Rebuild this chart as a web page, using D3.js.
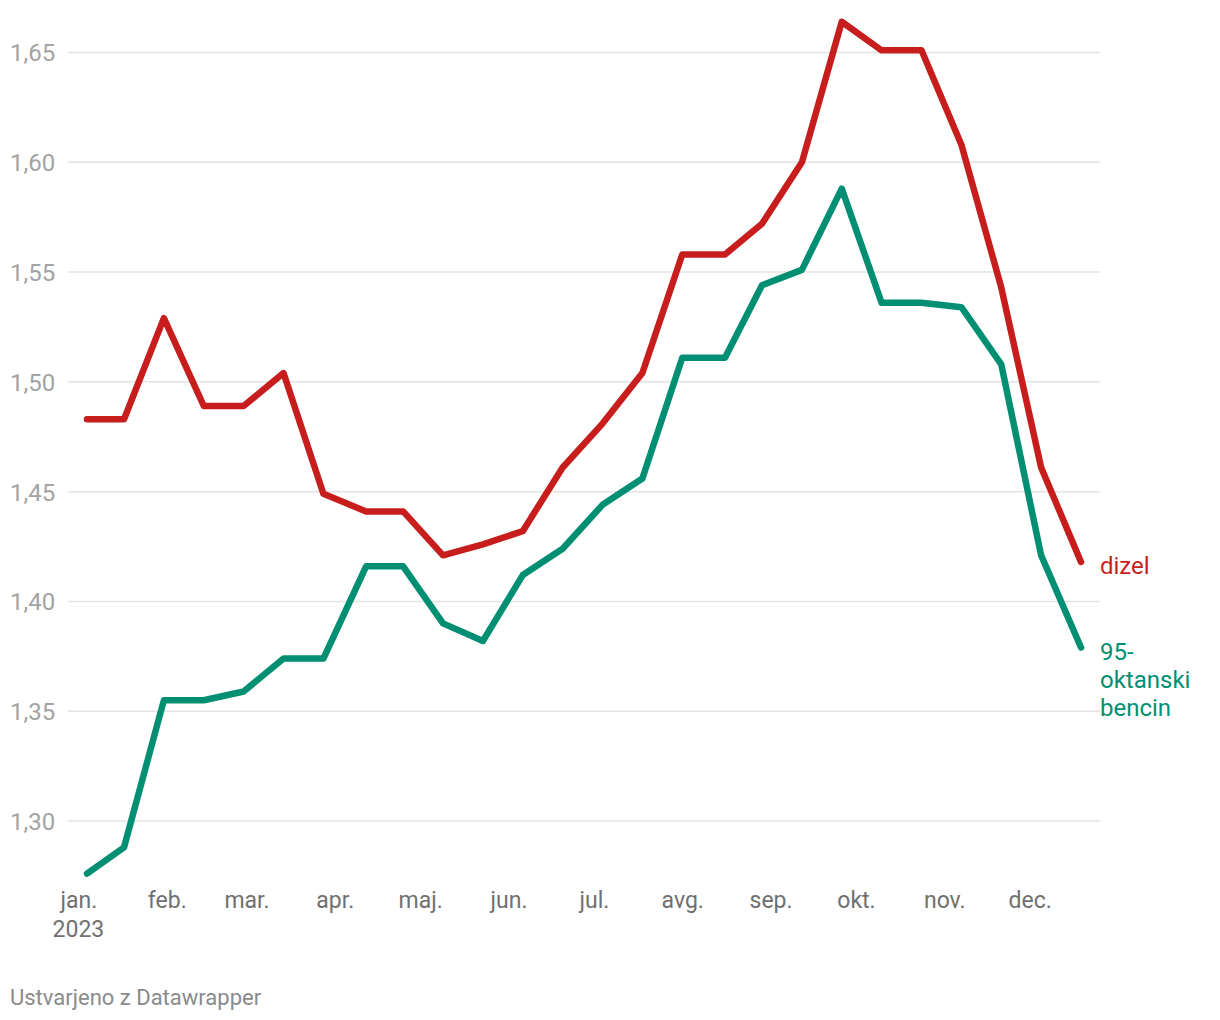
<!DOCTYPE html>
<html>
<head>
<meta charset="utf-8">
<script src="https://cdn.jsdelivr.net/npm/d3@7"></script>
<style>
  html, body { margin: 0; padding: 0; background: #fff; }
  svg { display: block; font-family: Roboto, "Noto Sans", sans-serif; }
</style>
</head>
<body>
<svg id="chart" width="1220" height="1020"></svg>
<script>
// ---- data ----
const dates = [
  "2023-01-04","2023-01-17","2023-01-31","2023-02-14","2023-02-28","2023-03-14",
  "2023-03-28","2023-04-12","2023-04-25","2023-05-09","2023-05-23","2023-06-06",
  "2023-06-20","2023-07-04","2023-07-18","2023-08-01","2023-08-16","2023-08-29",
  "2023-09-12","2023-09-26","2023-10-10","2023-10-24","2023-11-07","2023-11-21",
  "2023-12-05","2023-12-19"
];
const dizel = [
  1.483, 1.483, 1.529, 1.489, 1.489, 1.504,
  1.449, 1.441, 1.441, 1.421, 1.426, 1.432,
  1.461, 1.481, 1.504, 1.558, 1.558, 1.572,
  1.600, 1.664, 1.651, 1.651, 1.608, 1.543,
  1.461, 1.418
];
const bencin = [
  1.276, 1.288, 1.355, 1.355, 1.359, 1.374,
  1.374, 1.416, 1.416, 1.390, 1.382, 1.412,
  1.424, 1.444, 1.456, 1.511, 1.511, 1.544,
  1.551, 1.588, 1.536, 1.536, 1.534, 1.508,
  1.421, 1.379
];
const yTicks = [1.30, 1.35, 1.40, 1.45, 1.50, 1.55, 1.60, 1.65];
const monthLabels = ["jan.","feb.","mar.","apr.","maj.","jun.","jul.","avg.","sep.","okt.","nov.","dec."];
const seriesNames = [["dizel"], ["95-", "oktanski", "bencin"]];
const footer = "Ustvarjeno z Datawrapper";

// ---- setup ----
const parse = d3.utcParse("%Y-%m-%d");
const xDates = dates.map(parse);
const svg = d3.select("#chart");
svg.append("rect").attr("width", 1220).attr("height", 1020).attr("fill", "#fff");

const x = d3.scaleUtc()
  .domain([xDates[0], xDates[xDates.length - 1]])
  .range([87, 1081]);
const y = d3.scaleLinear().domain([1.30, 1.65]).range([821, 52.5]);

const fmt = v => d3.format(".2f")(v).replace(".", ",");

// gridlines + y labels
const yAxis = d3.axisLeft(y).tickValues(yTicks).tickSize(0).tickFormat(fmt);
svg.append("g").selectAll("line.grid").data(yTicks).join("line")
  .attr("class", "grid")
  .attr("x1", 68).attr("x2", 1100)
  .attr("y1", d => y(d)).attr("y2", d => y(d))
  .attr("stroke", "#e3e3e3").attr("stroke-width", 1.5);
const gyl = svg.append("g").attr("transform", "translate(10,0)").call(yAxis);
gyl.select(".domain").remove();
gyl.selectAll("text")
  .attr("x", 0).attr("text-anchor", "start")
  .attr("dy", "0.35em")
  .attr("fill", "#a3a3a3").attr("font-size", 24)
  .attr("font-family", "Roboto, sans-serif");

// x axis
const monthTicks = d3.utcMonth.range(parse("2023-01-01"), parse("2023-12-02"));
const xAxis = d3.axisBottom(x).tickValues(monthTicks).tickSize(0)
  .tickFormat(d => monthLabels[d.getUTCMonth()]);
const gx = svg.append("g").attr("transform", "translate(0,900)").call(xAxis);
gx.select(".domain").remove();
gx.selectAll("text")
  .attr("y", 0).attr("dy", "0.35em")
  .attr("fill", "#707070").attr("font-size", 23)
  .attr("font-family", "Roboto, sans-serif");
// year under first month
svg.append("text")
  .attr("x", x(monthTicks[0])).attr("y", 929).attr("dy", "0.35em")
  .attr("text-anchor", "middle").attr("fill", "#707070").attr("font-size", 23)
  .text("2023");

// lines
const line = d3.line().x((d, i) => x(xDates[i])).y(d => y(d));
const series = [
  { values: dizel, color: "#c71e1d", names: seriesNames[0] },
  { values: bencin, color: "#008f72", names: seriesNames[1] }
];
series.forEach(s => {
  svg.append("path")
    .attr("d", line(s.values))
    .attr("fill", "none").attr("stroke", s.color)
    .attr("stroke-width", 6.5)
    .attr("stroke-linejoin", "round").attr("stroke-linecap", "round");
});

// line labels
series.forEach(s => {
  const last = s.values[s.values.length - 1];
  const t = svg.append("text")
    .attr("x", 1100).attr("y", y(last) + 4)
    .attr("fill", s.color).attr("font-size", 24);
  s.names.forEach((n, i) => {
    t.append("tspan").attr("x", 1100).attr("dy", i === 0 ? "0.35em" : 28).text(n);
  });
});

// footer
svg.append("text")
  .attr("x", 10).attr("y", 997).attr("dy", "0.35em")
  .attr("fill", "#8a8a8a").attr("font-size", 22)
  .text(footer);
</script>
</body>
</html>
